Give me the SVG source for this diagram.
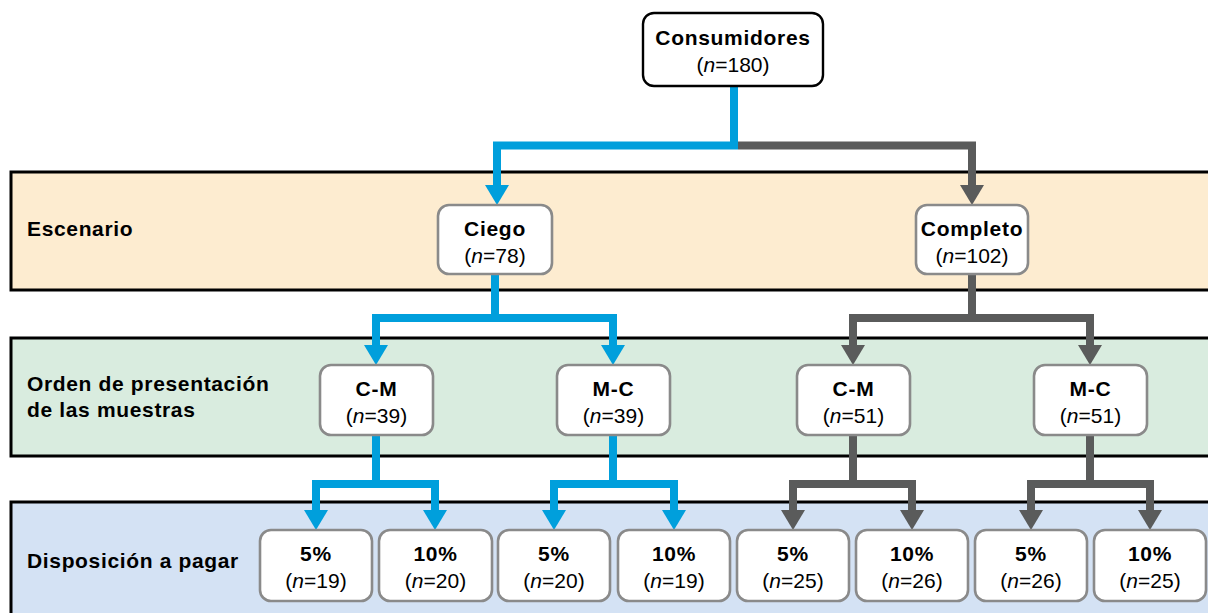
<svg xmlns="http://www.w3.org/2000/svg" width="1208" height="613" viewBox="0 0 1208 613">
<style>
.band{stroke:#000;stroke-width:3}
.node{fill:#fff;stroke:#8a8a8a;stroke-width:2.6}
.root{fill:#fff;stroke:#000;stroke-width:2.4}
text{font-family:"Liberation Sans",Arial,sans-serif;font-size:21px;fill:#000}
.t{font-weight:bold;text-anchor:middle;letter-spacing:0.7px}
.n{text-anchor:middle}
.lab{font-weight:bold;letter-spacing:0.65px}
.blue{fill:none;stroke:#009fdc;stroke-width:8;stroke-linejoin:miter}
.gray{fill:none;stroke:#5a5b5b;stroke-width:8;stroke-linejoin:miter}
</style>
<defs>
<marker id="ab" viewBox="0 0 20 24" refX="1" refY="12" markerWidth="20" markerHeight="24" markerUnits="userSpaceOnUse" orient="auto"><path d="M0,0 L20,12 L0,24 Z" fill="#009fdc"/></marker>
<marker id="ag" viewBox="0 0 20 24" refX="1" refY="12" markerWidth="20" markerHeight="24" markerUnits="userSpaceOnUse" orient="auto"><path d="M0,0 L20,12 L0,24 Z" fill="#5a5b5b"/></marker>
</defs>
<g id="bands">
<rect class="band" x="11" y="172" width="1215" height="118" fill="#fdecd0"/>
<rect class="band" x="11" y="338" width="1215" height="118" fill="#d9ecdf"/>
<rect class="band" x="11" y="502" width="1215" height="130" fill="#d4e2f4"/>
<text class="lab" x="27" y="236">Escenario</text>
<text class="lab" x="27" y="391">Orden de presentación</text>
<text class="lab" x="27" y="417">de las muestras</text>
<text class="lab" x="27" y="568">Disposición a pagar</text>
</g>
<g id="connectors">
<path class="blue" d="M734,86 V145.5 H497 V186" marker-end="url(#ab)"/>
<path class="gray" d="M738,145.5 H972 V186" marker-end="url(#ag)"/>
<path class="blue" d="M495,274 V318 H376 V346" marker-end="url(#ab)"/>
<path class="blue" d="M495,318 H613 V346" marker-end="url(#ab)"/>
<path class="gray" d="M972,274 V318 H853 V346" marker-end="url(#ag)"/>
<path class="gray" d="M972,318 H1090 V346" marker-end="url(#ag)"/>
<path class="blue" d="M376,435 V484 H316 V511" marker-end="url(#ab)"/>
<path class="blue" d="M376,484 H435 V511" marker-end="url(#ab)"/>
<path class="blue" d="M613,435 V484 H554 V511" marker-end="url(#ab)"/>
<path class="blue" d="M613,484 H674 V511" marker-end="url(#ab)"/>
<path class="gray" d="M853,435 V484 H793 V511" marker-end="url(#ag)"/>
<path class="gray" d="M853,484 H912 V511" marker-end="url(#ag)"/>
<path class="gray" d="M1090,435 V484 H1031 V511" marker-end="url(#ag)"/>
<path class="gray" d="M1090,484 H1150 V511" marker-end="url(#ag)"/>
</g>
<g id="n-root">
<rect class="root" x="643" y="13" width="180" height="73" rx="11"/>
<text class="t" x="733" y="45">Consumidores</text>
<text class="n" x="733" y="72">(<tspan font-style="italic">n</tspan>=180)</text>
</g>
<g id="n-ciego">
<rect class="node" x="438" y="205" width="114" height="69" rx="11"/>
<text class="t" x="495" y="236">Ciego</text>
<text class="n" x="495" y="263">(<tspan font-style="italic">n</tspan>=78)</text>
</g>
<g id="n-completo">
<rect class="node" x="916" y="205" width="112" height="69" rx="11"/>
<text class="t" x="972" y="236">Completo</text>
<text class="n" x="972" y="263">(<tspan font-style="italic">n</tspan>=102)</text>
</g>
<g id="n-cm1">
<rect class="node" x="320" y="365" width="113" height="70" rx="11"/>
<text class="t" x="376.5" y="396">C-M</text>
<text class="n" x="376.5" y="423">(<tspan font-style="italic">n</tspan>=39)</text>
</g>
<g id="n-mc1">
<rect class="node" x="557" y="365" width="113" height="70" rx="11"/>
<text class="t" x="613.5" y="396">M-C</text>
<text class="n" x="613.5" y="423">(<tspan font-style="italic">n</tspan>=39)</text>
</g>
<g id="n-cm2">
<rect class="node" x="797" y="365" width="113" height="70" rx="11"/>
<text class="t" x="853.5" y="396">C-M</text>
<text class="n" x="853.5" y="423">(<tspan font-style="italic">n</tspan>=51)</text>
</g>
<g id="n-mc2">
<rect class="node" x="1034" y="365" width="113" height="70" rx="11"/>
<text class="t" x="1090.5" y="396">M-C</text>
<text class="n" x="1090.5" y="423">(<tspan font-style="italic">n</tspan>=51)</text>
</g>
<g id="n-b1">
<rect class="node" x="260" y="530" width="112" height="71" rx="11"/>
<text class="t" x="316" y="561">5%</text>
<text class="n" x="316" y="588">(<tspan font-style="italic">n</tspan>=19)</text>
</g>
<g id="n-b2">
<rect class="node" x="379" y="530" width="113" height="71" rx="11"/>
<text class="t" x="435.5" y="561">10%</text>
<text class="n" x="435.5" y="588">(<tspan font-style="italic">n</tspan>=20)</text>
</g>
<g id="n-b3">
<rect class="node" x="498" y="530" width="112" height="71" rx="11"/>
<text class="t" x="554" y="561">5%</text>
<text class="n" x="554" y="588">(<tspan font-style="italic">n</tspan>=20)</text>
</g>
<g id="n-b4">
<rect class="node" x="618" y="530" width="112" height="71" rx="11"/>
<text class="t" x="674" y="561">10%</text>
<text class="n" x="674" y="588">(<tspan font-style="italic">n</tspan>=19)</text>
</g>
<g id="n-b5">
<rect class="node" x="737" y="530" width="112" height="71" rx="11"/>
<text class="t" x="793" y="561">5%</text>
<text class="n" x="793" y="588">(<tspan font-style="italic">n</tspan>=25)</text>
</g>
<g id="n-b6">
<rect class="node" x="856" y="530" width="112" height="71" rx="11"/>
<text class="t" x="912" y="561">10%</text>
<text class="n" x="912" y="588">(<tspan font-style="italic">n</tspan>=26)</text>
</g>
<g id="n-b7">
<rect class="node" x="975" y="530" width="112" height="71" rx="11"/>
<text class="t" x="1031" y="561">5%</text>
<text class="n" x="1031" y="588">(<tspan font-style="italic">n</tspan>=26)</text>
</g>
<g id="n-b8">
<rect class="node" x="1094" y="530" width="112" height="71" rx="11"/>
<text class="t" x="1150" y="561">10%</text>
<text class="n" x="1150" y="588">(<tspan font-style="italic">n</tspan>=25)</text>
</g>
</svg>
